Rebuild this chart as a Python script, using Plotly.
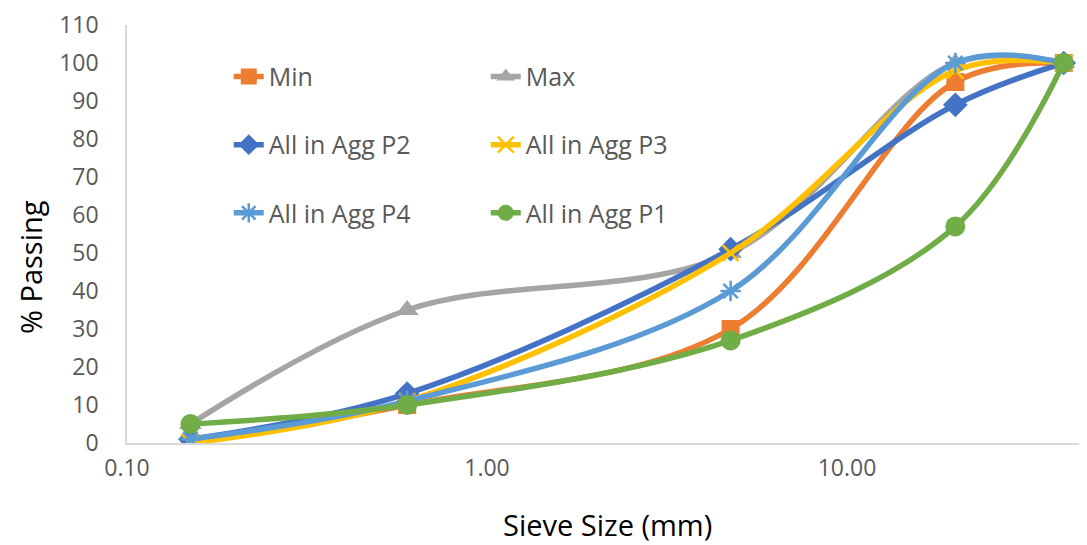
import plotly.graph_objects as go

sieve = [0.15, 0.6, 4.75, 20, 40]
min_vals = [0, 10, 30, 95, 100]
max_vals = [5, 35, 50, 100, 100]
p2_vals = [1, 13, 51, 89, 100]
p3_vals = [0, 11, 50, 98, 100]
p4_vals = [1, 11, 40, 100, 100]
p1_vals = [5, 10, 27, 57, 100]

x_tickvals = [0.1, 1, 10]
x_ticktext = ["0.10", "1.00", "10.00"]
y_tickvals = list(range(0, 111, 10))

series = [
    ("Min", min_vals, "#ED7D31", "square", 18, "legend"),
    ("Max", max_vals, "#A5A5A5", "triangle-up", 20, "legend"),
    ("All in Agg P2", p2_vals, "#4472C4", "diamond", 19, "legend2"),
    ("All in Agg P3", p3_vals, "#FFC000", "x-thin", 16, "legend2"),
    ("All in Agg P4", p4_vals, "#5B9BD5", "asterisk", 17, "legend3"),
    ("All in Agg P1", p1_vals, "#70AD47", "circle", 20, "legend3"),
]

fig = go.Figure()
for name, vals, color, sym, size, lg in series:
    mk = dict(symbol=sym, size=size, color=color)
    if sym in ("x-thin", "asterisk"):
        mk["line"] = dict(color=color, width=2.5)
    else:
        mk["line"] = dict(color=color, width=0)
    fig.add_trace(go.Scatter(
        x=sieve, y=vals, name=name, mode="lines+markers",
        line=dict(color=color, width=5.5, shape="spline", smoothing=1),
        marker=mk, legend=lg,
    ))

font_family = "Open Sans, Liberation Sans, sans-serif"
legend_common = dict(
    orientation="h", xanchor="left", yanchor="middle",
    bgcolor="rgba(0,0,0,0)", font=dict(family=font_family, size=25, color="#595959"),
    entrywidth=212, entrywidthmode="pixels", itemwidth=30,
)

# page body has an 8px margin; figure offset accordingly
fig.update_layout(
    width=1079, height=537,
    margin=dict(l=119, r=0, t=17, b=102),
    paper_bgcolor="white", plot_bgcolor="white",
    font=dict(family=font_family, color="#595959"),
    showlegend=True,
    legend=dict(x=0.106, y=0.876, **legend_common),
    legend2=dict(x=0.106, y=0.713, **legend_common),
    legend3=dict(x=0.106, y=0.550, **legend_common),
    xaxis=dict(
        type="log", range=[-1, 1.6667],
        tickvals=x_tickvals, ticktext=x_ticktext,
        tickfont=dict(size=23, color="#595959"),
        showgrid=False, zeroline=False,
        showline=True, linecolor="#D9D9D9", linewidth=1.5,
        ticks="", ticklabelstandoff=4,
    ),
    yaxis=dict(
        range=[0, 110], tickvals=y_tickvals,
        tickfont=dict(size=23, color="#595959"),
        showgrid=False, zeroline=False,
        showline=True, linecolor="#D9D9D9", linewidth=1.5,
        ticks="", ticklabelstandoff=22,
    ),
    annotations=[
        dict(text="% Passing", xref="paper", yref="paper", x=-0.101, y=0.421,
             xanchor="center", yanchor="middle", textangle=-90, showarrow=False,
             font=dict(family=font_family, size=29, color="#000000")),
        dict(text="Sieve Size (mm)", xref="paper", yref="paper", x=0.5, y=-0.196,
             xanchor="center", yanchor="middle", showarrow=False,
             font=dict(family=font_family, size=29, color="#000000")),
    ],
)

fig.write_html("out.html")
